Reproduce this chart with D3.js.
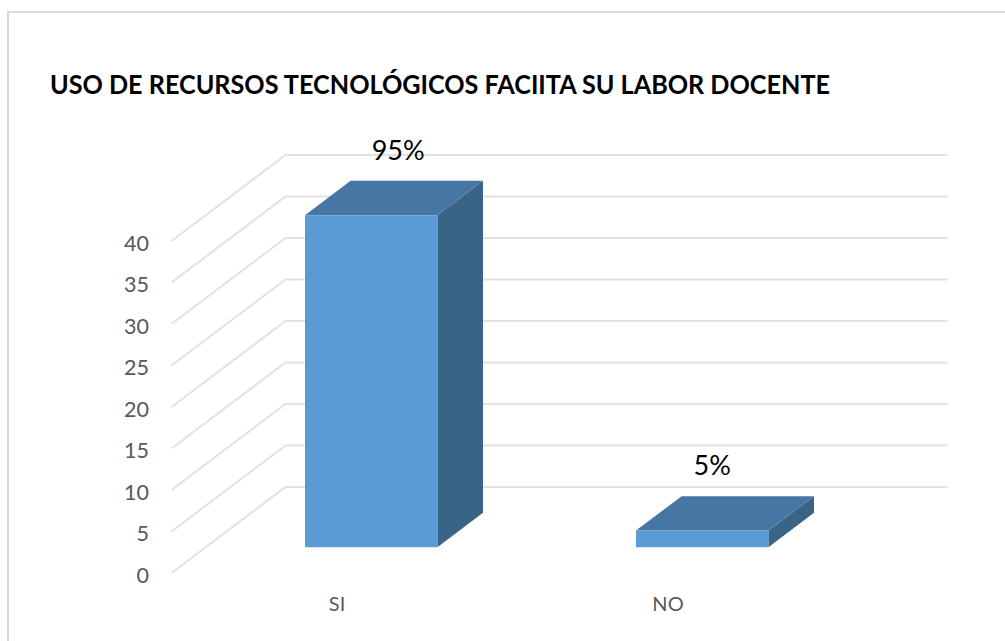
<!DOCTYPE html>
<html>
<head>
<meta charset="utf-8">
<script src="https://cdn.jsdelivr.net/npm/d3@7"></script>
<style>
  html, body { margin: 0; padding: 0; background: white; overflow: hidden; }
  text { font-family: Lato, sans-serif; }
</style>
</head>
<body>
<div id="my_dataviz"></div>
<script>
// chart data
var titleText = "USO DE RECURSOS TECNOLÓGICOS FACIITA SU LABOR DOCENTE";
var categories = ["SI", "NO"];
var values = [40, 2];
var percentLabels = ["95%", "5%"];
var yTicks = [0, 5, 10, 15, 20, 25, 30, 35, 40];

var width = 1005,
  height = 641;

var svg = d3
  .select("#my_dataviz")
  .append("svg")
  .attr("width", width)
  .attr("height", height)
  .style("display", "block");

// front plane of the 3d box
var x = d3.scaleBand().domain(categories).range([171.5, 833.5]).paddingInner(0.6).paddingOuter(0.3);
var y = d3.scaleLinear().domain([0, 40]).range([573, 241]);

// depth goes from 0 (front) to 1 (back wall)
var depthX = d3.scaleLinear().domain([0, 1]).range([0, 114]);
var depthY = d3.scaleLinear().domain([0, 1]).range([0, -86]);

var barFront = 0.3,
  barBack = 0.7;

function pt(px, py, depth) {
  return [px + depthX(depth), py + depthY(depth)];
}

// frame, only top and left show up in the picture
svg
  .append("path")
  .attr("d", "M8,641V12H1005")
  .attr("fill", "none")
  .attr("stroke", "#d9d9d9")
  .attr("stroke-width", 2);

// title, squeezed a bit because Lato runs wider than the original font
svg
  .append("text")
  .attr("x", 50)
  .attr("y", 94)
  .attr("font-size", 27)
  .attr("font-weight", 700)
  .attr("fill", "#000")
  .attr("textLength", 780)
  .attr("lengthAdjust", "spacingAndGlyphs")
  .text(titleText);

// gridlines: side wall then back wall
svg
  .append("g")
  .selectAll("path")
  .data(yTicks)
  .enter()
  .append("path")
  .attr("d", function (d) {
    var a = pt(x.range()[0], y(d), 0);
    var b = pt(x.range()[0], y(d), 1);
    var c = pt(x.range()[1], y(d), 1);
    return d3.line()([a, b, c]);
  })
  .attr("fill", "none")
  .attr("stroke", "#e2e2e2")
  .attr("stroke-width", 2);

// y axis
var yAxis = svg
  .append("g")
  .attr("transform", "translate(171,0)")
  .call(d3.axisLeft(y).tickValues(yTicks).tickSize(0).tickPadding(22).offset(0));
yAxis.select(".domain").remove();
yAxis
  .selectAll("text")
  .attr("font-size", 21.5)
  .attr("fill", "#595959")
  .attr("font-family", "Lato, sans-serif")
  .attr("dy", "0.45em");

// x axis
var xAxis = svg
  .append("g")
  .attr("transform", "translate(0,604)")
  .call(d3.axisBottom(x).tickSize(0).tickPadding(0).offset(0));
xAxis.select(".domain").remove();
xAxis
  .selectAll("text")
  .attr("font-size", 20)
  .attr("fill", "#595959")
  .attr("font-family", "Lato, sans-serif")
  .attr("dy", "0.36em");

// bars
var bars = svg
  .append("g")
  .selectAll("g")
  .data(categories)
  .enter()
  .append("g");

function poly(points) {
  return d3.line()(points) + "Z";
}

function corners(d, i) {
  var x0 = x(d),
    x1 = x(d) + x.bandwidth();
  return { x0: x0, x1: x1, top: y(values[i]), bottom: y(0) };
}

// side
bars
  .append("path")
  .attr("d", function (d, i) {
    var c = corners(d, i);
    return poly([
      pt(c.x1, c.top, barFront),
      pt(c.x1, c.top, barBack),
      pt(c.x1, c.bottom, barBack),
      pt(c.x1, c.bottom, barFront),
    ]);
  })
  .attr("fill", "#3a6486");

// top
bars
  .append("path")
  .attr("d", function (d, i) {
    var c = corners(d, i);
    return poly([
      pt(c.x0, c.top, barFront),
      pt(c.x0, c.top, barBack),
      pt(c.x1, c.top, barBack),
      pt(c.x1, c.top, barFront),
    ]);
  })
  .attr("fill", "#4676a3");

// front
bars
  .append("path")
  .attr("d", function (d, i) {
    var c = corners(d, i);
    return poly([
      pt(c.x0, c.top, barFront),
      pt(c.x1, c.top, barFront),
      pt(c.x1, c.bottom, barFront),
      pt(c.x0, c.bottom, barFront),
    ]);
  })
  .attr("fill", "#5b9bd5");

// percent labels were moved by hand in the original
var labelShift = [27, 10];

bars
  .append("text")
  .attr("x", function (d, i) {
    return pt(x(d) + x.bandwidth() / 2, 0, barFront)[0] + labelShift[i];
  })
  .attr("y", function (d, i) {
    return pt(0, y(values[i]), barBack)[1] - 21;
  })
  .attr("text-anchor", "middle")
  .attr("font-size", 27)
  .attr("fill", "#000")
  .text(function (d, i) {
    return percentLabels[i];
  });
</script>
</body>
</html>
